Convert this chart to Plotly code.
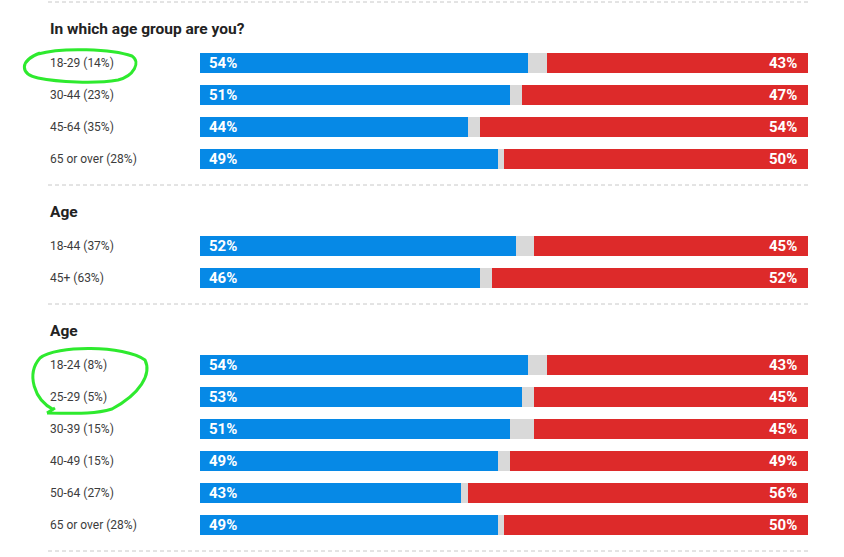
import plotly.graph_objects as go

W, H = 844, 557
BAR_X0, BAR_X1 = 200, 808
LEFT = 48
ROW_STEP = 32
BAR_H = 20

BLUE = "#0689e6"
RED = "#dd2a2a"
GRAY = "#d9d9d9"
GREEN = "#2eea2e"
FONT = "Roboto, Liberation Sans, sans-serif"

titles = ["In which age group are you?", "Age", "Age"]
groups = [
    ["18-29 (14%)", "30-44 (23%)", "45-64 (35%)", "65 or over (28%)"],
    ["18-44 (37%)", "45+ (63%)"],
    ["18-24 (8%)", "25-29 (5%)", "30-39 (15%)", "40-49 (15%)", "50-64 (27%)", "65 or over (28%)"],
]
dem = [[54, 51, 44, 49], [52, 46], [54, 53, 51, 49, 43, 49]]
rep = [[43, 47, 54, 50], [45, 52], [43, 45, 45, 49, 56, 50]]


def px(x):
    return x / W


# lay out sections top to bottom (pixel rows on the y axis)
sep_ys, title_ys = [], []
row_y, row_lbl, row_dem, row_rep = [], [], [], []
y = 2
for title, labels, d, r in zip(titles, groups, dem, rep):
    sep_ys.append(y)
    title_ys.append(y + 27)
    first = y + 61
    for i, (lbl, dv, rv) in enumerate(zip(labels, d, r)):
        row_y.append(first + i * ROW_STEP)
        row_lbl.append(lbl)
        row_dem.append(dv)
        row_rep.append(rv)
    y = row_y[-1] + 26
sep_ys.append(y)

row_other = [100 - a - b for a, b in zip(row_dem, row_rep)]

fig = go.Figure()
for vals, col in [(row_dem, BLUE), (row_other, GRAY), (row_rep, RED)]:
    fig.add_trace(go.Bar(
        x=vals, y=row_y, orientation="h", width=BAR_H,
        marker=dict(color=col, line=dict(width=0)),
        hoverinfo="skip", showlegend=False,
    ))

ann = []
for t, ty in zip(titles, title_ys):
    ann.append(dict(text="<b>" + t + "</b>", x=px(LEFT), xref="paper", y=ty, yref="y",
                    xanchor="left", yanchor="middle", showarrow=False,
                    font=dict(family=FONT, size=15.5, color="#222222")))
for lbl, ry, dv, rv in zip(row_lbl, row_y, row_dem, row_rep):
    ann.append(dict(text=lbl, x=px(LEFT), xref="paper", y=ry, yref="y",
                    xanchor="left", yanchor="middle", showarrow=False,
                    font=dict(family=FONT, size=12, color="#3c3c3c")))
    ann.append(dict(text="<b>%d%%</b>" % dv, x=0, xref="x", y=ry, yref="y", xshift=7,
                    xanchor="left", yanchor="middle", showarrow=False,
                    font=dict(family=FONT, size=15, color="white")))
    ann.append(dict(text="<b>%d%%</b>" % rv, x=100, xref="x", y=ry, yref="y", xshift=-9,
                    xanchor="right", yanchor="middle", showarrow=False,
                    font=dict(family=FONT, size=15, color="white")))

shapes = []
for sy in sep_ys:
    shapes.append(dict(type="line", xref="paper", yref="y", x0=px(LEFT), x1=px(BAR_X1),
                       y0=sy, y1=sy, line=dict(color="#c8c8c8", width=1, dash="4px,3px")))


def hand_path(pts):
    # pts: list of (cmd, [(x, y), ...]) in pixels
    out = []
    for cmd, xy in pts:
        out.append(cmd + " " + " ".join("%.5f,%.1f" % (px(a), b) for a, b in xy))
    return " ".join(out)


circle1 = hand_path([
    ("M", [(38, 54)]),
    ("C", [(62, 47), (112, 49), (132, 56)]),
    ("C", [(141, 62), (134, 76), (118, 80)]),
    ("C", [(95, 84), (58, 82), (38, 78)]),
    ("C", [(20, 74), (19, 61), (40, 53)]),
])
circle2 = hand_path([
    ("M", [(54, 410)]),
    ("C", [(34, 400), (26, 374), (40, 358)]),
    ("C", [(56, 345), (124, 345), (145, 360)]),
    ("C", [(152, 374), (140, 394), (112, 409)]),
    ("C", [(92, 415), (70, 413), (47, 413)]),
    ("M", [(47, 413)]),
    ("L", [(55, 408)]),
])
for p in (circle1, circle2):
    shapes.append(dict(type="path", path=p, xref="paper", yref="y",
                       line=dict(color=GREEN, width=3)))

fig.update_layout(
    width=W, height=H, barmode="stack",
    margin=dict(l=0, r=0, t=0, b=0, pad=0),
    paper_bgcolor="white", plot_bgcolor="white",
    xaxis=dict(domain=[px(BAR_X0), px(BAR_X1)], range=[0, 100], visible=False, fixedrange=True),
    yaxis=dict(domain=[0, 1], range=[H, 0], visible=False, fixedrange=True),
    annotations=ann, shapes=shapes,
)

fig.write_html("out.html", config={"displayModeBar": False},
               post_script="document.body.style.margin='0';")
